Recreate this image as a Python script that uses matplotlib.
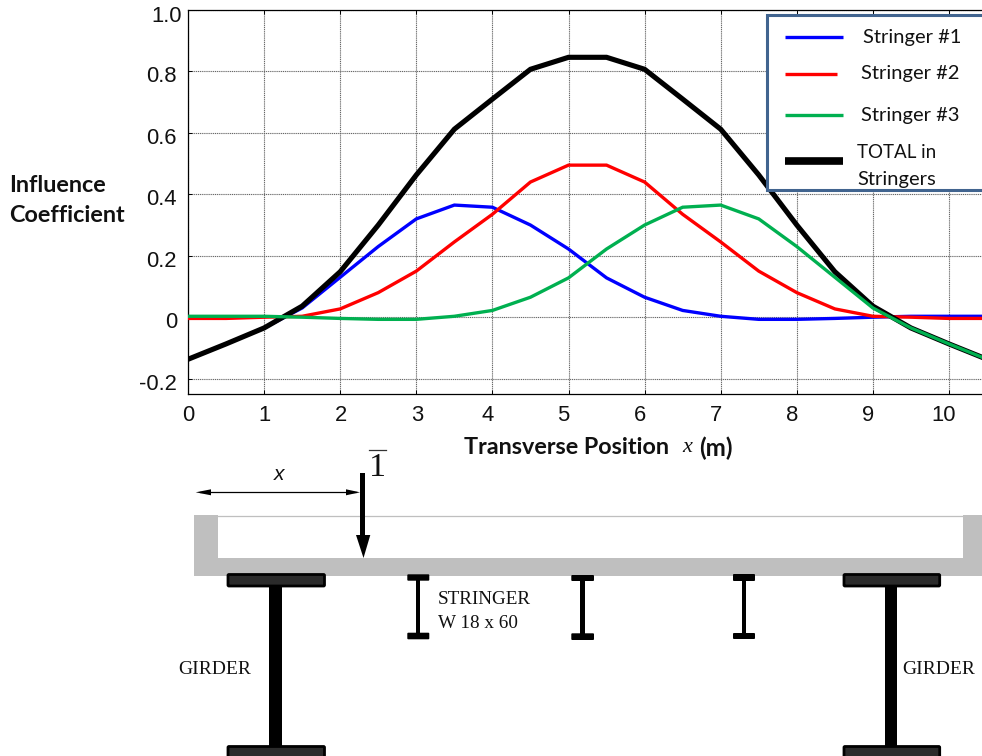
import matplotlib
matplotlib.use("Agg")
import matplotlib.pyplot as plt
from matplotlib.patches import Rectangle, FancyBboxPatch, Polygon
from matplotlib.transforms import ScaledTranslation

# ---- data ----
positions = [0, .5, 1, 1.5, 2, 2.5, 3, 3.5, 4, 4.5, 5, 5.5, 6, 6.5, 7, 7.5, 8, 8.5, 9, 9.5, 10, 10.5]
stringer1 = [-.137, -.087, -.035, .03, .13, .23, .32, .365, .358, .30, .222, .128, .065, .022, .003, -.007, -.007, -.004, 0, .003, .003, .003]
stringer2 = [-.004, -.004, 0, .003, .027, .08, .15, .245, .335, .44, .495, .495, .44, .335, .245, .15, .08, .027, .003, 0, -.004, -.004]
stringer3 = [.003, .003, .003, 0, -.004, -.007, -.007, .003, .022, .065, .128, .222, .30, .358, .365, .32, .23, .13, .03, -.035, -.087, -.137]
total = [-.137, -.087, -.035, .036, .148, .30, .463, .612, .71, .807, .846, .846, .807, .71, .612, .463, .30, .148, .036, -.035, -.087, -.137]
x_ticks = list(range(11))
x_labels = [str(v) for v in x_ticks]
y_ticks = [-.2, 0, .2, .4, .6, .8, 1.0]
y_labels = ["-0.2", "0", "0.2", "0.4", "0.6", "0.8", "1.0"]
legend_labels = ["Stringer #1", "Stringer #2", "Stringer #3"]

BLUE, RED, GREEN = "#0000ff", "#ff0000", "#00b050"
W, H = 982, 756
fig = plt.figure(figsize=(W / 100, H / 100), dpi=100)

# axes placed in pixel terms
L, R, T, B = 188, 982, 10, 394
ax = fig.add_axes([L / W, 1 - B / H, (R - L) / W, (B - T) / H])
ax.set_xlim(0, (R - L) / 76.1)
ax.set_ylim(-0.25, 1.0)
ax.plot(positions, stringer1, color=BLUE, lw=2.4, solid_joinstyle="miter", zorder=3)
ax.plot(positions, stringer2, color=RED, lw=2.4, solid_joinstyle="miter", zorder=3.1)
ax.plot(positions, total, color="black", lw=3.7, solid_joinstyle="miter", zorder=3.2)
ax.plot(positions, stringer3, color=GREEN, lw=2.4, solid_joinstyle="miter", zorder=3.3)
ax.grid(True, color="#666666", lw=0.8, ls=(0, (1, 0.7)))
ax.set_axisbelow(True)
ax.spines["right"].set_visible(False)
for s in ax.spines.values():
    s.set_linewidth(0.9)
ax.set_xticks(x_ticks)
ax.set_xticklabels(x_labels, family="Liberation Sans", fontsize=15.8, color="#111111")
ax.set_yticks(y_ticks)
ax.set_yticklabels(y_labels, family="Liberation Sans", fontsize=15.8, color="#111111")
ax.tick_params(direction="in", length=3, width=0.7, top=True)
ax.tick_params(axis="x", pad=8)
ax.tick_params(axis="y", pad=8)
x_dx = [0, 0, 1, 1, -5, -5, -5, -5, -5, -5, -5]
for lab, dx in zip(ax.get_xticklabels(), x_dx):
    lab.set_transform(lab.get_transform() + ScaledTranslation(dx / 100, 0, fig.dpi_scale_trans))
y_dy = [-3.7, -3, -3, -3, -3.4, -3, -4]
y_dx = [0, 0, 0, 0, 0, 0, 5]
for lab, dx, dy in zip(ax.get_yticklabels(), y_dx, y_dy):
    lab.set_transform(lab.get_transform() + ScaledTranslation(dx / 100, dy / 100, fig.dpi_scale_trans))

# overlay in pixel coordinates for annotations, key and the section diagram
ov = fig.add_axes([0, 0, 1, 1], zorder=5)
ov.set_xlim(0, W)
ov.set_ylim(H, 0)
ov.axis("off")
ov.patch.set_alpha(0)

def text(x, y, s, size, family="Lato", ha="left", **kw):
    ov.text(x, y, s, fontsize=size, family=family, ha=ha, va="center", color=kw.pop("color", "#111111"), **kw)

# axis titles
text(9, 185, "Influence", 16.8, weight="bold")
text(9, 215, "Coefficient", 16.8, weight="bold")
text(464, 448, "Transverse Position", 16.8, weight="bold")
text(682, 448, "x", 16, family="Liberation Serif", style="italic")
text(699, 448, "(m)", 17.5, weight="bold")

# key
ov.add_patch(Rectangle((767, 15), 240, 175, fc="white", ec="#41648f", lw=2.2, zorder=2))
for (x1, y, c, lw) in [(842.7, 36.7, BLUE, 2.4), (837, 74, RED, 2.4), (842.7, 115.3, GREEN, 2.4), (842.7, 161, "black", 5.5)]:
    ov.plot([785, x1], [y, y], color=c, lw=lw, solid_capstyle="butt", zorder=3)
for (x, y, s, fs) in [(863, 37, legend_labels[0], 14.5), (861, 73, legend_labels[1], 14.5), (861, 116, legend_labels[2], 14.5),
                      (857, 152, "TOTAL in", 13.5), (857, 179, "Stringers", 14.5)]:
    ov.text(x, y, s, fontsize=fs, family="Lato", va="center", color="#111111", zorder=4)

# section: deck
GREY = "#bfbfbf"
ov.add_patch(Polygon([(194, 515), (218, 515), (218, 558), (963, 558), (963, 515), (982, 515), (982, 576), (194, 576)],
                     closed=True, fc=GREY, ec="none"))
ov.plot([218, 963], [515.5, 515.5], color=GREY, lw=0.9)

def flange(x0, x1, y0, y1, fc="black"):
    ov.add_patch(FancyBboxPatch((x0 + 1, y0 + 1), x1 - x0 - 2, y1 - y0 - 2, boxstyle="round,pad=1,rounding_size=1",
                                fc=fc, ec="black", lw=2 if fc != "black" else 0, zorder=3))

def web(x0, x1, y0, y1):
    ov.add_patch(Rectangle((x0, y0), x1 - x0, y1 - y0, fc="black", ec="none", zorder=3))

# girders
for (fx0, fx1, wx0, wx1) in [(228, 324.5, 269.3, 281.7), (844, 939.7, 885, 897.3)]:
    flange(fx0, fx1, 574.5, 586, "#2b2b2b")
    web(wx0, wx1, 586, 746)
    flange(fx0, fx1, 746.5, 762, "#2b2b2b")
# stringers
for (fx0, fx1, wx0, wx1, t0, t1, b0, b1) in [(407.3, 429.3, 415.7, 420.3, 574.3, 580.7, 632.7, 639.3),
                                             (571.3, 594, 580.3, 585, 575, 581, 633.3, 640),
                                             (733, 755, 741.7, 746, 574, 581, 633, 639)]:
    flange(fx0, fx1, t0, t1)
    web(wx0, wx1, t1 - 1, b0 + 1)
    flange(fx0, fx1, b0, b1)

# load arrow
ov.add_patch(Rectangle((360.3, 473), 4.7, 63, fc="black", ec="none", zorder=3))
ov.add_patch(Polygon([(356, 535), (370.3, 535), (363.5, 558)], closed=True, fc="black", ec="none", zorder=3))
# dimension arrow
ov.plot([200, 356], [492.3, 492.3], color="black", lw=0.9)
ov.add_patch(Polygon([(195.7, 492.3), (211, 489.3), (211, 495.3)], closed=True, fc="black", ec="none"))
ov.add_patch(Polygon([(360, 492.3), (346, 489.3), (346, 495.3)], closed=True, fc="black", ec="none"))
text(279, 474.5, "x", 15, family="Liberation Sans", ha="center", style="italic")
text(377.5, 468, "1", 24.5, family="Liberation Serif", ha="center")
ov.plot([369, 386], [450, 450], color="#333333", lw=0.9)

text(438, 600, "STRINGER", 13.8, family="Liberation Serif")
text(438, 624, "W 18 x 60", 13.8, family="Liberation Serif")
text(178, 670, "GIRDER", 14, family="Liberation Serif")
text(902, 670, "GIRDER", 14, family="Liberation Serif")

fig.savefig("out.png", dpi=100)
